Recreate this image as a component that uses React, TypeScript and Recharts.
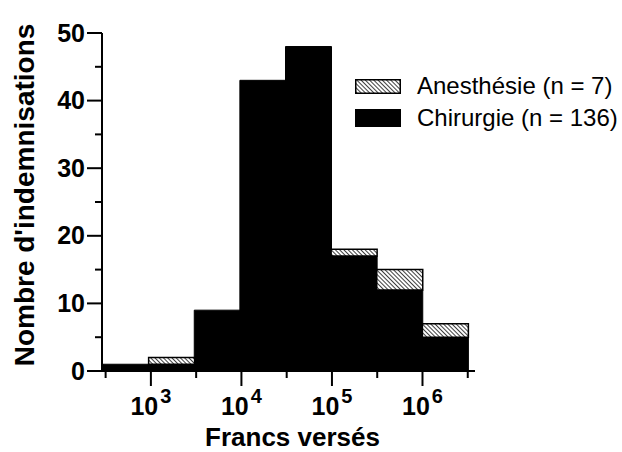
import React from 'react';
import { BarChart, Bar, XAxis, YAxis, Label } from 'recharts';

// log10 lower bound of each half-decade bin (Francs versés)
const binLowerLog = [2.5, 3, 3.5, 4, 4.5, 5, 5.5, 6];
const chirurgie = [1, 1, 9, 43, 48, 17, 12, 5];
const anesthesie = [0, 1, 0, 0, 0, 1, 3, 2];
const yTicks = [0, 5, 10, 15, 20, 25, 30, 35, 40, 45, 50];
const xTicks = [2.5, 3, 3.5, 4, 4.5, 5, 5.5, 6, 6.5];
const legendItems = ['Anesthésie (n = 7)', 'Chirurgie (n = 136)'];

const data = binLowerLog.map((lo, i) => ({
  bin: String(lo),
  mid: lo + 0.25,
  chirurgie: chirurgie[i],
  anesthesie: anesthesie[i],
}));

const FONT = '"Liberation Sans", Arial, Helvetica, sans-serif';

const YTick = (props: any) => {
  const { x, y, payload } = props;
  const v = payload.value;
  const major = v % 10 === 0;
  return (
    <g>
      <line x1={x} x2={x - (major ? 15 : 7)} y1={y} y2={y} stroke="#000" strokeWidth={2} />
      {major && (
        <text x={x - 17} y={y} dy={8.5} textAnchor="end" fontFamily={FONT} fontWeight="bold" fontSize={25} fill="#000">
          {v}
        </text>
      )}
    </g>
  );
};

const XTick = (props: any) => {
  const { x, y, payload } = props;
  const v = payload.value;
  const major = Math.abs(v - Math.round(v)) < 1e-9;
  return (
    <g>
      <line x1={x} x2={x} y1={y} y2={y + (major ? 15 : 7)} stroke="#000" strokeWidth={2} />
      {major && (
        <text x={x} y={y + 44} textAnchor="middle" fontFamily={FONT} fontWeight="bold" fontSize={25} fill="#000">
          <tspan>10</tspan>
          <tspan dx={2} dy={-12} fontSize={20}>{Math.round(v)}</tspan>
        </text>
      )}
    </g>
  );
};

const HatchBox = ({ w, h }: { w: number; h: number }) => (
  <svg width={w} height={h} style={{ display: 'block' }}>
    <defs>
      <pattern id="hatchLegend" patternUnits="userSpaceOnUse" width={3} height={3} patternTransform="rotate(-45)">
        <rect x={0} y={0} width={3} height={3} fill="#fff" />
        <line x1={0} y1={0} x2={0} y2={3} stroke="#000" strokeWidth={1.5} />
      </pattern>
    </defs>
    <rect x={0.75} y={0.75} width={w - 1.5} height={h - 1.5} fill="url(#hatchLegend)" stroke="#000" strokeWidth={1.5} />
  </svg>
);

export default function App() {
  return (
    <div style={{ position: 'absolute', left: 0, top: 0, width: 622, height: 452, background: '#fff' }}>
      <BarChart
        width={622}
        height={452}
        data={data}
        margin={{ top: 33, right: 147, bottom: 0, left: 0 }}
        barCategoryGap={0}
        barGap={0}
      >
        <defs>
          <pattern id="hatch" patternUnits="userSpaceOnUse" width={3} height={3} patternTransform="rotate(-45)">
            <rect x={0} y={0} width={3} height={3} fill="#fff" />
            <line x1={0} y1={0} x2={0} y2={3} stroke="#000" strokeWidth={1.5} />
          </pattern>
        </defs>
        <XAxis
          xAxisId="log"
          type="number"
          dataKey="mid"
          domain={[2.46, 6.58]}
          allowDataOverflow
          ticks={xTicks}
          interval={0}
          tick={<XTick />}
          tickLine={false}
          tickSize={0}
          tickMargin={0}
          height={81}
          axisLine={{ stroke: '#000', strokeWidth: 2 }}
        >
          <Label
            content={(p: any) => {
              const vb = p.viewBox || {};
              return (
                <text
                  x={vb.x + vb.width / 2 + 4}
                  y={vb.y + 75}
                  textAnchor="middle"
                  fontFamily={FONT}
                  fontWeight="bold"
                  fontSize={26}
                  fill="#000"
                >
                  Francs versés
                </text>
              );
            }}
          />
        </XAxis>
        <XAxis xAxisId="bins" type="category" dataKey="bin" hide height={0} padding={{ left: 1, right: 7 }} />
        <YAxis
          type="number"
          domain={[0, 50]}
          ticks={yTicks}
          interval={0}
          width={102}
          tick={<YTick />}
          tickLine={false}
          tickSize={0}
          tickMargin={0}
          axisLine={{ stroke: '#000', strokeWidth: 2 }}
        >
          <Label
            content={(p: any) => {
              const vb = p.viewBox || {};
              const cx = 34;
              const cy = vb.y + vb.height / 2 - 7;
              return (
                <text
                  x={cx}
                  y={cy}
                  transform={`rotate(-90, ${cx}, ${cy})`}
                  textAnchor="middle"
                  fontFamily={FONT}
                  fontWeight="bold"
                  fontSize={28}
                  fill="#000"
                >
                  Nombre d'indemnisations
                </text>
              );
            }}
          />
        </YAxis>
        <Bar
          xAxisId="bins"
          dataKey="chirurgie"
          stackId="a"
          fill="#000"
          stroke="#000"
          strokeWidth={1}
          isAnimationActive={false}
        />
        <Bar
          xAxisId="bins"
          dataKey="anesthesie"
          stackId="a"
          fill="url(#hatch)"
          stroke="#000"
          strokeWidth={1.5}
          isAnimationActive={false}
        />
      </BarChart>
      <div
        style={{
          position: 'absolute',
          left: 355,
          top: 70,
          fontFamily: FONT,
          fontSize: 24,
          color: '#000',
          lineHeight: '32px',
        }}
      >
        <div style={{ display: 'flex', alignItems: 'center', height: 32 }}>
          <HatchBox w={46} h={15} />
          <span style={{ marginLeft: 16, whiteSpace: 'nowrap' }}>{legendItems[0]}</span>
        </div>
        <div style={{ display: 'flex', alignItems: 'center', height: 32 }}>
          <div style={{ width: 46, height: 18, background: '#000' }} />
          <span style={{ marginLeft: 16, whiteSpace: 'nowrap' }}>{legendItems[1]}</span>
        </div>
      </div>
    </div>
  );
}
